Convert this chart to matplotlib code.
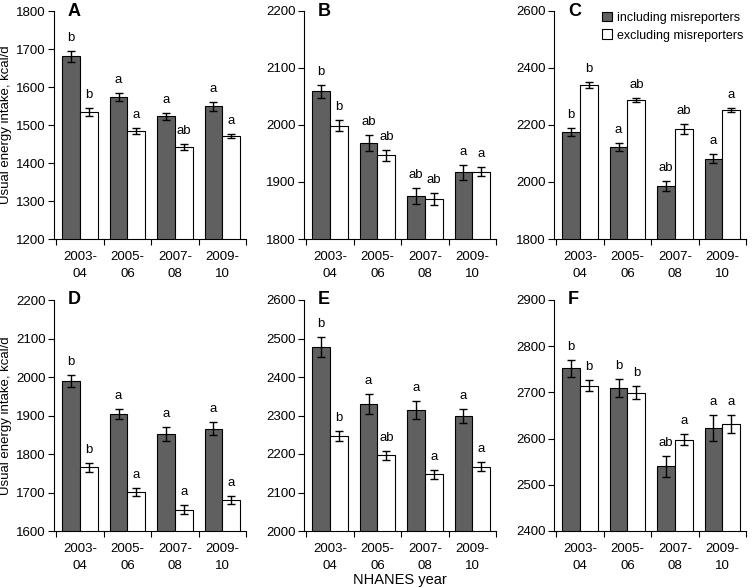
import numpy as np
import matplotlib
matplotlib.use("Agg")
import matplotlib.pyplot as plt
from matplotlib.patches import Patch

plt.rcParams["font.family"] = ["Liberation Sans", "DejaVu Sans"]

# ── Data ────────────────────────────────────────────────────────────────────
years = ["2003-\n04", "2005-\n06", "2007-\n08", "2009-\n10"]

a_inc, a_inc_se = [1681, 1574, 1523, 1549], [14, 10, 9, 11]
a_exc, a_exc_se = [1534, 1485, 1441, 1471], [11, 8, 8, 6]
a_inc_lt, a_exc_lt = ["b", "a", "a", "a"], ["b", "a", "ab", "a"]

b_inc, b_inc_se = [2059, 1969, 1876, 1917], [12, 14, 14, 13]
b_exc, b_exc_se = [1999, 1947, 1870, 1918], [9, 10, 10, 8]
b_inc_lt, b_exc_lt = ["b", "ab", "ab", "a"], ["b", "ab", "ab", "a"]

c_inc, c_inc_se = [2175, 2123, 1985, 2082], [15, 15, 18, 17]
c_exc, c_exc_se = [2340, 2289, 2186, 2253], [11, 7, 18, 8]
c_inc_lt, c_exc_lt = ["b", "a", "ab", "a"], ["b", "ab", "ab", "a"]

d_inc, d_inc_se = [1990, 1903, 1853, 1866], [16, 13, 18, 17]
d_exc, d_exc_se = [1765, 1701, 1655, 1681], [11, 10, 12, 11]
d_inc_lt, d_exc_lt = ["b", "a", "a", "a"], ["b", "a", "a", "a"]

e_inc, e_inc_se = [2477, 2331, 2314, 2299], [26, 26, 23, 18]
e_exc, e_exc_se = [2247, 2197, 2147, 2167], [14, 12, 12, 12]
e_inc_lt, e_exc_lt = ["b", "a", "a", "a"], ["b", "ab", "a", "a"]

f_inc, f_inc_se = [2752, 2710, 2540, 2623], [19, 19, 23, 29]
f_exc, f_exc_se = [2714, 2699, 2598, 2632], [12, 14, 12, 20]
f_inc_lt, f_exc_lt = ["b", "b", "ab", "a"], ["b", "b", "a", "a"]

panels = [
    ("A", a_inc, a_inc_se, a_exc, a_exc_se, a_inc_lt, a_exc_lt, (1200, 1800, 100)),
    ("B", b_inc, b_inc_se, b_exc, b_exc_se, b_inc_lt, b_exc_lt, (1800, 2200, 100)),
    ("C", c_inc, c_inc_se, c_exc, c_exc_se, c_inc_lt, c_exc_lt, (1800, 2600, 200)),
    ("D", d_inc, d_inc_se, d_exc, d_exc_se, d_inc_lt, d_exc_lt, (1600, 2200, 100)),
    ("E", e_inc, e_inc_se, e_exc, e_exc_se, e_inc_lt, e_exc_lt, (2000, 2600, 100)),
    ("F", f_inc, f_inc_se, f_exc, f_exc_se, f_inc_lt, f_exc_lt, (2400, 2900, 100)),
]

DARK = "#606060"
W, H = 752, 588
BW = 0.375

fig = plt.figure(figsize=(W / 100, H / 100), dpi=100)

lefts = [54, 304, 554]
rows = [(11, 239), (300, 531)]   # (top px, bottom px)
x = np.arange(len(years))

for i, (tag, inc, inc_se, exc, exc_se, inc_lt, exc_lt, (lo, hi, step)) in enumerate(panels):
    top, bot = rows[i // 3]
    left = lefts[i % 3]
    ax = fig.add_axes([left / W, 1 - bot / H, 192 / W, (bot - top) / H])

    ekw = dict(ecolor="black", elinewidth=1.0, capsize=3, capthick=1.0)
    ax.bar(x - BW / 2, inc, BW, yerr=inc_se, color=DARK, edgecolor="black",
           linewidth=0.8, error_kw=ekw, zorder=2)
    ax.bar(x + BW / 2, exc, BW, yerr=exc_se, color="white", edgecolor="black",
           linewidth=0.8, error_kw=ekw, zorder=2)

    # significance letters
    for xi, v, s, t in zip(x - BW / 2, inc, inc_se, inc_lt):
        ax.annotate(t, (xi, v + s), xytext=(0, 5), textcoords="offset points",
                    ha="center", va="bottom", fontsize=9.5)
    for xi, v, s, t in zip(x + BW / 2, exc, exc_se, exc_lt):
        ax.annotate(t, (xi, v + s), xytext=(0, 5), textcoords="offset points",
                    ha="center", va="bottom", fontsize=9.5)

    ax.set_xlim(-0.55, 3.5)
    ax.set_ylim(lo, hi)
    ax.set_yticks(np.arange(lo, hi + 1, step))
    ax.set_xticks(x)
    ax.set_xticklabels(years, fontsize=9.5, linespacing=1.5)
    ax.set_xticks(np.arange(-0.5, 4.0, 1.0), minor=True)
    ax.tick_params(axis="x", which="major", length=0, pad=9)
    ax.tick_params(axis="x", which="minor", length=4, direction="out", width=0.8)
    ax.tick_params(axis="y", length=4, direction="out", width=0.8, labelsize=9.5, pad=2)
    for sp in ("top", "right"):
        ax.spines[sp].set_visible(False)
    for sp in ("left", "bottom"):
        ax.spines[sp].set_linewidth(0.8)

    ax.annotate(tag, (0, 1), xycoords="axes fraction", xytext=(10, 0),
                textcoords="offset points", ha="left", va="center",
                fontsize=13, fontweight="bold")

    if i % 3 == 0:
        ax.set_ylabel("Usual energy intake, kcal/d", fontsize=9.5, labelpad=3)
    if tag == "E":
        ax.set_xlabel("NHANES year", fontsize=10.5, labelpad=1)
    if tag == "C":
        handles = [Patch(facecolor=DARK, edgecolor="black", linewidth=0.8),
                   Patch(facecolor="white", edgecolor="black", linewidth=0.8)]
        ax.legend(handles, ["including misreporters", "excluding misreporters"],
                  loc="upper right", bbox_to_anchor=(1.025, 1.03), frameon=False,
                  fontsize=9, handlelength=0.8, handleheight=0.8,
                  handletextpad=0.4, labelspacing=0.45, borderaxespad=0.2)

fig.savefig("out.png", dpi=100, facecolor="white")
